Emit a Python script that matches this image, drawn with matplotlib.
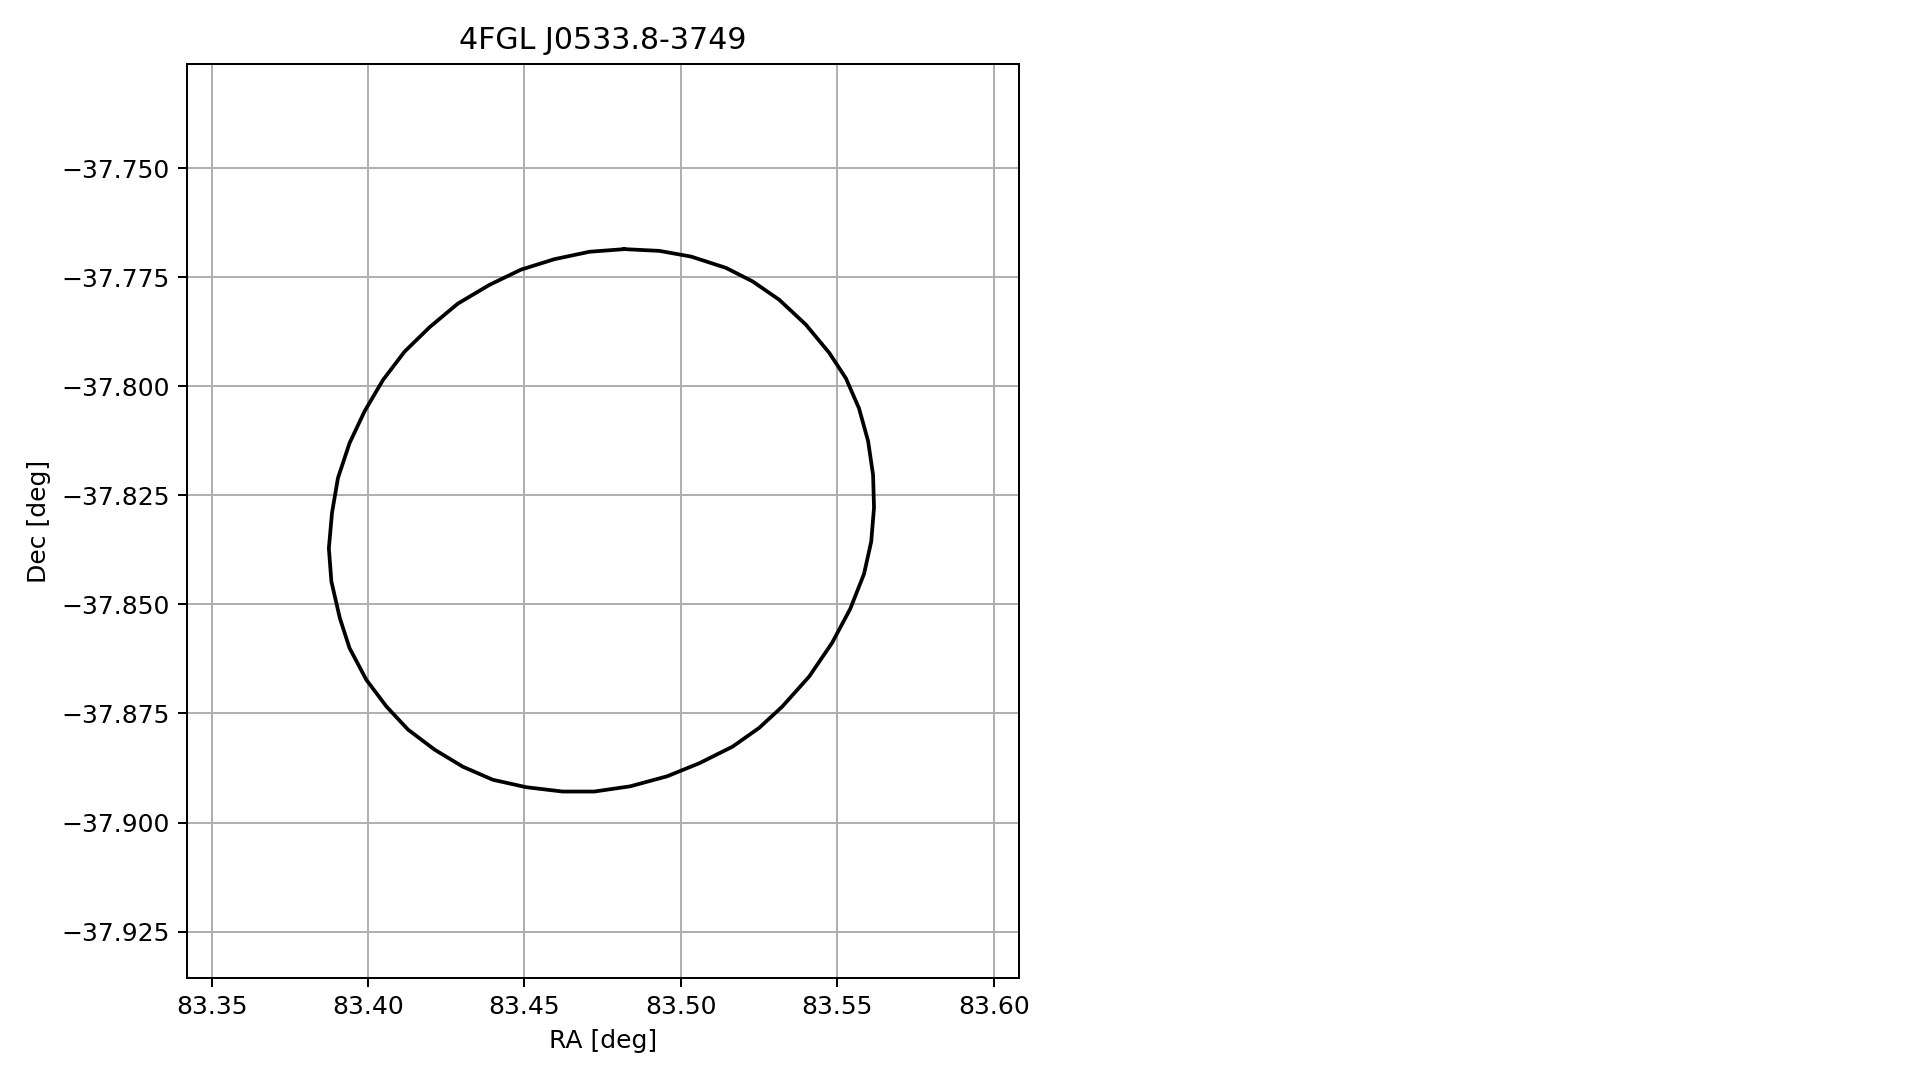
import numpy as np
import matplotlib
matplotlib.use("Agg")
import matplotlib.pyplot as plt

# error ellipse vertices
ra = [83.4819, 83.4931, 83.5032, 83.5144, 83.5229, 83.5314, 83.5399, 83.5474,
      83.5527, 83.5569, 83.5598, 83.5614, 83.5617, 83.5608, 83.5585, 83.5541,
      83.5483, 83.5410, 83.5324, 83.5250, 83.5165, 83.5059, 83.4956, 83.4838,
      83.4723, 83.4622, 83.4505, 83.4399, 83.4303, 83.4213, 83.4128, 83.4059,
      83.3995, 83.3941, 83.3910, 83.3883, 83.3875, 83.3885, 83.3904, 83.3941,
      83.3989, 83.4048, 83.4117, 83.4197, 83.4287, 83.4388, 83.4489, 83.4596,
      83.4708]
dec = [-37.7685, -37.7689, -37.7702, -37.7728, -37.7759, -37.7801, -37.7858, -37.7923,
       -37.7981, -37.8050, -37.8125, -37.8203, -37.8278, -37.8356, -37.8430, -37.8510,
       -37.8588, -37.8665, -37.8734, -37.8783, -37.8826, -37.8864, -37.8894, -37.8917,
       -37.8929, -37.8929, -37.8919, -37.8902, -37.8872, -37.8833, -37.8787, -37.8734,
       -37.8673, -37.8600, -37.8531, -37.8447, -37.8371, -37.8290, -37.8210, -37.8130,
       -37.8057, -37.7985, -37.7920, -37.7864, -37.7810, -37.7767, -37.7732, -37.7708,
       -37.7691]
ra_ticks = [83.35, 83.40, 83.45, 83.50, 83.55, 83.60]
dec_ticks = [-37.750, -37.775, -37.800, -37.825, -37.850, -37.875, -37.900, -37.925]
source_name = "4FGL J0533.8-3749"

dpi = 180
fig = plt.figure(figsize=(1919 / dpi, 1080 / dpi), dpi=dpi)
ax = fig.add_axes([0.0975, 0.0947, 0.4333, 0.8458])

# close the polygon
x = np.append(ra, ra[0])
y = np.append(dec, dec[0])
ax.plot(x, y, color="black", lw=1.5)

ax.set_xlim(83.3422, 83.6079)
ax.set_ylim(-37.9356, -37.7261)
ax.set_xticks(ra_ticks)
ax.set_yticks(dec_ticks)
ax.set_yticklabels(["\u2212%.3f" % abs(v) for v in dec_ticks])
ax.grid(True)

ax.set_xlabel("RA [deg]")
ax.set_ylabel("Dec [deg]")
ax.set_title(source_name)

fig.savefig("out.png", dpi=dpi)
